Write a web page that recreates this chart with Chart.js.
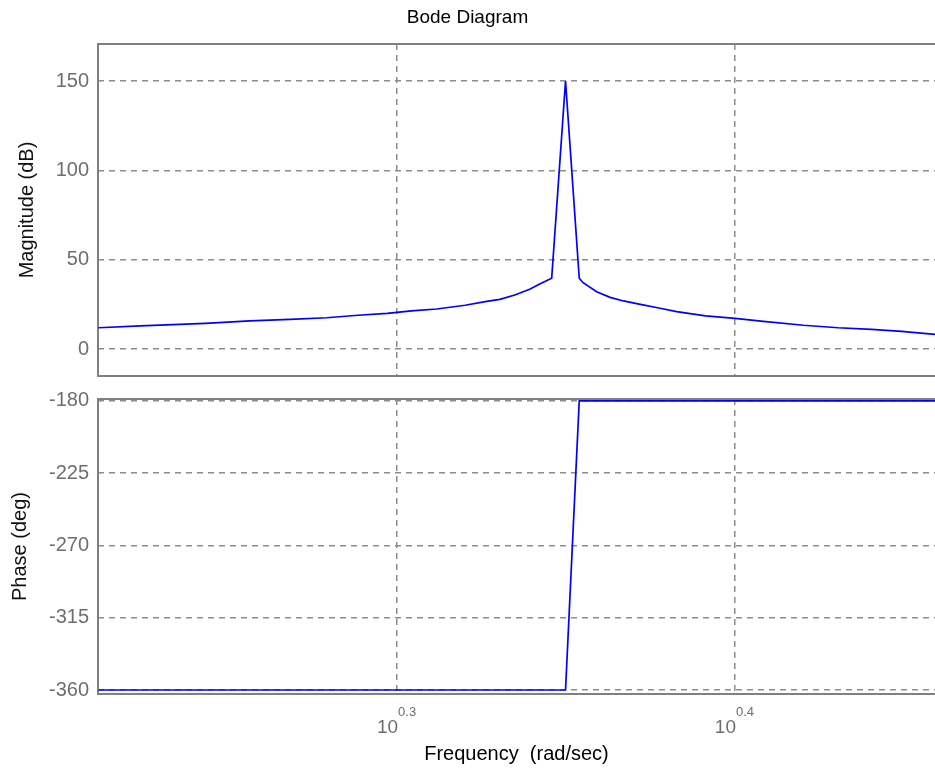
<!DOCTYPE html>
<html>
<head>
<meta charset="utf-8">
<title>Bode Diagram</title>
<script src="https://cdn.jsdelivr.net/npm/chart.js@4.4.0/dist/chart.umd.min.js"></script>
<style>
  body { margin: 0; background: #fff; }
  #wrap { position: relative; width: 935px; height: 773px; overflow: hidden; }
  canvas { position: absolute; left: 0; }
</style>
</head>
<body>
<div id="wrap">
  <canvas id="mag" width="935" height="390" style="top:0"></canvas>
  <canvas id="phase" width="935" height="383" style="top:390px"></canvas>
</div>
<script>
// frequency samples (rad/sec)
const freqs = [1.628, 1.675, 1.751, 1.805, 1.855, 1.902, 1.943, 1.982, 2.015, 2.050,
  2.090, 2.121, 2.140, 2.162, 2.184, 2.199, 2.217, 2.238, 2.259, 2.265,
  2.286, 2.307, 2.328, 2.355, 2.387, 2.414, 2.462, 2.512, 2.561, 2.632,
  2.695, 2.757, 2.814, 2.879];
const magDb = [11.9, 12.9, 14.4, 15.7, 16.6, 17.5, 18.9, 20.0, 21.3, 22.4,
  24.5, 26.7, 27.8, 30.2, 33.4, 36.4, 39.6, 150, 39.6, 37.1,
  32.1, 28.9, 26.9, 25.0, 22.8, 20.9, 18.5, 17.2, 15.5, 13.3,
  11.9, 11.0, 9.9, 8.2];
const phaseDeg = [-360, -360, -360, -360, -360, -360, -360, -360, -360, -360,
  -360, -360, -360, -360, -360, -360, -360, -360, -180, -180,
  -180, -180, -180, -180, -180, -180, -180, -180, -180, -180,
  -180, -180, -180, -180];
const magTicks = [0, 50, 100, 150];
const phaseTicks = [-360, -315, -270, -225, -180];
const freqTickExps = ['0.3', '0.4'];

const FONT = "'Liberation Sans', Arial, sans-serif";
const GRID = '#8c8c8c';
const FRAME = '#808080';
Chart.defaults.font.family = FONT;

// visible x range (the plot runs on past the right edge of the picture)
const xMin = Math.pow(10, 0.2115);
const xMax = Math.pow(10, 0.4592);

function points(ys) {
  return freqs.map((f, i) => ({ x: f, y: ys[i] }));
}

// grey box round the axes
const framePlugin = {
  id: 'frame',
  beforeDatasetsDraw(chart) {
    const { ctx, chartArea: a } = chart;
    ctx.save();
    ctx.strokeStyle = FRAME;
    ctx.lineWidth = 2;
    ctx.beginPath();
    ctx.moveTo(a.right + 2, a.top);
    ctx.lineTo(a.left, a.top);
    ctx.lineTo(a.left, a.bottom);
    ctx.lineTo(a.right + 2, a.bottom);
    ctx.stroke();
    ctx.restore();
  }
};

// 10^0.3 style tick labels under the phase plot
const expTicksPlugin = {
  id: 'expTicks',
  afterDraw(chart) {
    const { ctx } = chart;
    const xs = chart.scales.x;
    const bottom = chart.chartArea.bottom;
    ctx.save();
    ctx.fillStyle = '#6e6e6e';
    ctx.textBaseline = 'middle';
    freqTickExps.forEach(e => {
      const px = xs.getPixelForValue(Math.pow(10, Number(e)));
      ctx.font = '19px ' + FONT;
      ctx.textAlign = 'right';
      ctx.fillText('10', px + 1, bottom + 34);
      ctx.font = '13px ' + FONT;
      ctx.textAlign = 'left';
      ctx.fillText(e, px + 1, bottom + 18);
    });
    ctx.restore();
  }
};

function xScale(space, title) {
  return {
    type: 'logarithmic',
    min: xMin,
    max: xMax,
    bounds: 'data',
    afterBuildTicks: s => {
      s.ticks = freqTickExps.map(e => ({ value: Math.pow(10, Number(e)) }));
      s.min = xMin;
      s.max = xMax;
    },
    afterFit: s => { s.height = space; s.paddingLeft = 0; s.paddingRight = 0; },
    ticks: { display: false },
    grid: { color: GRID, lineWidth: 1.5, drawTicks: false },
    border: { display: false, dash: [6, 5] },
    title: title
      ? { display: true, text: title, color: '#000', font: { size: 20 }, padding: { top: 0, bottom: 7 } }
      : { display: false }
  };
}

function yScale(min, max, tickVals, title, titlePad) {
  return {
    min: min,
    max: max,
    afterBuildTicks: s => { s.ticks = tickVals.map(v => ({ value: v })); },
    afterFit: s => { s.width = 98; s.paddingTop = 0; s.paddingBottom = 0; },
    ticks: { color: '#6e6e6e', font: { size: 20 }, padding: 9 },
    grid: { color: GRID, lineWidth: 1.5, drawTicks: false },
    border: { display: false, dash: [6, 5] },
    title: { display: true, text: title, color: '#111', font: { size: 20 }, padding: { top: titlePad, bottom: 0 } }
  };
}

function lineSet(ys) {
  return {
    data: points(ys),
    borderColor: '#0000ff',
    borderWidth: 1.7,
    pointRadius: 0,
    tension: 0,
    fill: false
  };
}

new Chart(document.getElementById('mag'), {
  type: 'line',
  data: { datasets: [lineSet(magDb)] },
  options: {
    responsive: false,
    animation: false,
    layout: { padding: 0 },
    plugins: {
      legend: { display: false },
      tooltip: { enabled: false },
      title: {
        display: true,
        text: 'Bode Diagram',
        color: '#000',
        font: { size: 19, weight: 'normal' },
        padding: { top: 6, bottom: 15.2 }
      }
    },
    scales: {
      x: xScale(14, null),
      y: yScale(-15.1, 170.7, magTicks, 'Magnitude (dB)', 15)
    }
  },
  plugins: [framePlugin]
});

new Chart(document.getElementById('phase'), {
  type: 'line',
  data: { datasets: [lineSet(phaseDeg)] },
  options: {
    responsive: false,
    animation: false,
    layout: { padding: { top: 9, left: 0, right: 0, bottom: 0 } },
    plugins: {
      legend: { display: false },
      tooltip: { enabled: false }
    },
    scales: {
      x: xScale(79, 'Frequency  (rad/sec)'),
      y: yScale(-362.5, -178.8, phaseTicks, 'Phase (deg)', 8)
    }
  },
  plugins: [framePlugin, expTicksPlugin]
});
</script>
</body>
</html>
